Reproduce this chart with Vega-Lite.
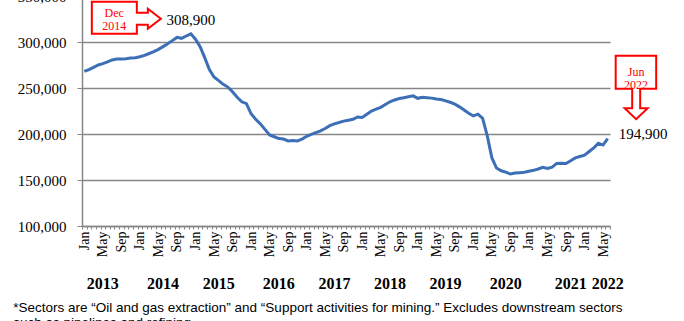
{
  "$schema": "https://vega.github.io/schema/vega-lite/v6.json",
  "width": 528,
  "height": 230,
  "autosize": "none",
  "padding": {"left": 82, "top": -4, "right": 74, "bottom": 95},
  "background": "white",
  "config": {
    "view": {"stroke": null},
    "axis": {"labelFont": "Liberation Serif", "labelColor": "black"},
    "title": {"font": "Liberation Sans", "fontWeight": "normal", "color": "black"}
  },
  "title": {
    "text": ["*Sectors are “Oil and gas extraction” and “Support activities for mining.” Excludes downstream sectors", "such as pipelines and refining."],
    "orient": "bottom",
    "anchor": "start",
    "frame": "bounds",
    "fontSize": 13.5,
    "lineHeight": 15,
    "offset": 10,
    "dx": -4
  },
  "resolve": {"axis": {"x": "independent"}},
  "encoding": {
    "y": {
      "field": "value", "type": "quantitative", "title": null,
      "scale": {"domain": [100000, 350000], "nice": false, "zero": false},
      "axis": {
        "values": [100000, 150000, 200000, 250000, 300000, 350000], "format": ",d",
        "grid": true, "gridColor": "#868686", "gridWidth": 1.5,
        "domainColor": "#868686", "domainWidth": 1.5, "tickColor": "#868686", "tickSize": 5,
        "labelFont": "Liberation Serif", "labelFontSize": 15, "labelPadding": 11, "labelColor": "black"
      }
    }
  },
  "layer": [
    {
      "data": {"values": [
        {"date": "2013-01-01", "value": 268000}, {"date": "2013-02-01", "value": 270000}, {"date": "2013-03-01", "value": 272500}, {"date": "2013-04-01", "value": 275000},
        {"date": "2013-05-01", "value": 276500}, {"date": "2013-06-01", "value": 278500}, {"date": "2013-07-01", "value": 280500}, {"date": "2013-08-01", "value": 281500},
        {"date": "2013-09-01", "value": 281500}, {"date": "2013-10-01", "value": 281800}, {"date": "2013-11-01", "value": 282500}, {"date": "2013-12-01", "value": 283000},
        {"date": "2014-01-01", "value": 284000}, {"date": "2014-02-01", "value": 285500}, {"date": "2014-03-01", "value": 287500}, {"date": "2014-04-01", "value": 289500},
        {"date": "2014-05-01", "value": 292000}, {"date": "2014-06-01", "value": 295000}, {"date": "2014-07-01", "value": 298000}, {"date": "2014-08-01", "value": 301500},
        {"date": "2014-09-01", "value": 305000}, {"date": "2014-10-01", "value": 304000}, {"date": "2014-11-01", "value": 306500}, {"date": "2014-12-01", "value": 308900},
        {"date": "2015-01-01", "value": 303000}, {"date": "2015-02-01", "value": 295000}, {"date": "2015-03-01", "value": 283000}, {"date": "2015-04-01", "value": 270000},
        {"date": "2015-05-01", "value": 262000}, {"date": "2015-06-01", "value": 258000}, {"date": "2015-07-01", "value": 254000}, {"date": "2015-08-01", "value": 251000},
        {"date": "2015-09-01", "value": 246000}, {"date": "2015-10-01", "value": 240000}, {"date": "2015-11-01", "value": 235000}, {"date": "2015-12-01", "value": 233000},
        {"date": "2016-01-01", "value": 222000}, {"date": "2016-02-01", "value": 216000}, {"date": "2016-03-01", "value": 211000}, {"date": "2016-04-01", "value": 205000},
        {"date": "2016-05-01", "value": 199000}, {"date": "2016-06-01", "value": 197000}, {"date": "2016-07-01", "value": 195000}, {"date": "2016-08-01", "value": 194500},
        {"date": "2016-09-01", "value": 192500}, {"date": "2016-10-01", "value": 193000}, {"date": "2016-11-01", "value": 192500}, {"date": "2016-12-01", "value": 194500},
        {"date": "2017-01-01", "value": 197500}, {"date": "2017-02-01", "value": 199500}, {"date": "2017-03-01", "value": 201500}, {"date": "2017-04-01", "value": 203500},
        {"date": "2017-05-01", "value": 206000}, {"date": "2017-06-01", "value": 209000}, {"date": "2017-07-01", "value": 211000}, {"date": "2017-08-01", "value": 212500},
        {"date": "2017-09-01", "value": 214000}, {"date": "2017-10-01", "value": 215000}, {"date": "2017-11-01", "value": 216000}, {"date": "2017-12-01", "value": 218500},
        {"date": "2018-01-01", "value": 218000}, {"date": "2018-02-01", "value": 221500}, {"date": "2018-03-01", "value": 225000}, {"date": "2018-04-01", "value": 227000},
        {"date": "2018-05-01", "value": 229000}, {"date": "2018-06-01", "value": 232000}, {"date": "2018-07-01", "value": 235000}, {"date": "2018-08-01", "value": 237000},
        {"date": "2018-09-01", "value": 238500}, {"date": "2018-10-01", "value": 239500}, {"date": "2018-11-01", "value": 240500}, {"date": "2018-12-01", "value": 241500},
        {"date": "2019-01-01", "value": 238800}, {"date": "2019-02-01", "value": 240000}, {"date": "2019-03-01", "value": 239500}, {"date": "2019-04-01", "value": 239000},
        {"date": "2019-05-01", "value": 238000}, {"date": "2019-06-01", "value": 237500}, {"date": "2019-07-01", "value": 236000}, {"date": "2019-08-01", "value": 234500},
        {"date": "2019-09-01", "value": 232500}, {"date": "2019-10-01", "value": 229500}, {"date": "2019-11-01", "value": 226000}, {"date": "2019-12-01", "value": 222500},
        {"date": "2020-01-01", "value": 219600}, {"date": "2020-02-01", "value": 221500}, {"date": "2020-03-01", "value": 217000}, {"date": "2020-04-01", "value": 198000},
        {"date": "2020-05-01", "value": 174000}, {"date": "2020-06-01", "value": 163000}, {"date": "2020-07-01", "value": 160000}, {"date": "2020-08-01", "value": 158500},
        {"date": "2020-09-01", "value": 156500}, {"date": "2020-10-01", "value": 157500}, {"date": "2020-11-01", "value": 158000}, {"date": "2020-12-01", "value": 158500},
        {"date": "2021-01-01", "value": 159500}, {"date": "2021-02-01", "value": 160500}, {"date": "2021-03-01", "value": 162000}, {"date": "2021-04-01", "value": 163800},
        {"date": "2021-05-01", "value": 162500}, {"date": "2021-06-01", "value": 164000}, {"date": "2021-07-01", "value": 168000}, {"date": "2021-08-01", "value": 168200},
        {"date": "2021-09-01", "value": 168000}, {"date": "2021-10-01", "value": 171000}, {"date": "2021-11-01", "value": 174000}, {"date": "2021-12-01", "value": 175500},
        {"date": "2022-01-01", "value": 177000}, {"date": "2022-02-01", "value": 181000}, {"date": "2022-03-01", "value": 185000}, {"date": "2022-04-01", "value": 189900},
        {"date": "2022-05-01", "value": 188000}, {"date": "2022-06-01", "value": 194900}
      ]},
      "mark": {"type": "line", "color": "#3C6FB6", "strokeWidth": 3},
      "encoding": {
        "x": {
          "field": "date", "timeUnit": "utcyearmonth", "type": "ordinal", "bandPosition": 0.5, "title": null,
          "scale": {"type": "band", "paddingInner": 0, "paddingOuter": 0},
          "axis": {
            "orient": "bottom", "tickBand": "extent", "grid": false,
            "domainColor": "#868686", "domainWidth": 1.5, "tickColor": "#868686", "tickSize": 3,
            "labelFont": "Liberation Serif", "labelAngle": 270, "labelFontSize": 14, "labelPadding": 2, "labelOverlap": false,
            "labelExpr": "indexof([0,4,8], utcmonth(datum.value)) >= 0 ? utcFormat(datum.value, '%b') : ''"
          }
        }
      }
    },
    {
      "data": {"values": [{"date": "2014-12-01", "value": 308900}]},
      "mark": {"type": "point", "shape": "M-99,-32L-54,-32L-54,-21L-43,-21L-43,-25L-30,-15L-43,-5L-43,-9L-54,-9L-54,0L-99,0Z", "size": 4, "filled": true, "fill": "white", "stroke": "#FF0000", "strokeWidth": 2, "opacity": 1},
      "encoding": {
        "x": {"field": "date", "timeUnit": "utcyearmonth", "type": "ordinal", "bandPosition": 0.5, "axis": null}
      }
    },
    {
      "data": {"values": [{"date": "2014-12-01", "value": 308900, "label": "Dec|2014"}]},
      "mark": {"type": "text", "font": "Liberation Serif", "fontSize": 12, "color": "#FF0000", "lineBreak": "|", "lineHeight": 13, "align": "center", "baseline": "middle", "dx": -76.6, "dy": -20.5},
      "encoding": {
        "x": {"field": "date", "timeUnit": "utcyearmonth", "type": "ordinal", "bandPosition": 0.5, "axis": null},
        "text": {"field": "label"}
      }
    },
    {
      "data": {"values": [{"date": "2014-12-01", "value": 308900, "label": "308,900"}]},
      "mark": {"type": "text", "font": "Liberation Serif", "fontSize": 15, "color": "black", "align": "center", "baseline": "alphabetic", "dy": -9},
      "encoding": {
        "x": {
          "field": "date", "timeUnit": "utcyearmonth", "type": "ordinal", "bandPosition": 0.5, "title": null,
          "axis": {
            "orient": "bottom", "ticks": false, "tickSize": 0, "domain": false, "grid": false,
            "labelFont": "Liberation Serif", "labelAngle": 0, "labelFontSize": 16, "labelFontWeight": "bold", "labelPadding": 57,
            "labelBaseline": "middle", "labelAlign": "center", "labelOverlap": false,
            "labelExpr": "indexof(['2013-05','2014-06','2015-06','2016-07','2017-07','2018-07','2019-07','2020-08','2021-10','2022-06'], utcFormat(datum.value, '%Y-%m')) >= 0 ? utcFormat(datum.value, '%Y') : ''"
          }
        },
        "text": {"field": "label"}
      }
    },
    {
      "data": {"values": [{"date": "2022-06-01", "value": 194900}]},
      "mark": {"type": "point", "shape": "M8,-83L48.5,-83L48.5,-50L32.5,-50L32.5,-30.5L40,-30.5L28.5,-19.5L17,-30.5L24.5,-30.5L24.5,-50L8,-50Z", "size": 4, "filled": true, "fill": "white", "stroke": "#FF0000", "strokeWidth": 2, "opacity": 1},
      "encoding": {
        "x": {"field": "date", "timeUnit": "utcyearmonth", "type": "ordinal", "bandPosition": 0.5, "axis": null}
      }
    },
    {
      "data": {"values": [{"date": "2022-06-01", "value": 194900, "label": "Jun|2022"}]},
      "mark": {"type": "text", "font": "Liberation Serif", "fontSize": 12, "color": "#FF0000", "lineBreak": "|", "lineHeight": 13, "align": "center", "baseline": "middle", "dx": 28.4, "dy": -66.7},
      "encoding": {
        "x": {"field": "date", "timeUnit": "utcyearmonth", "type": "ordinal", "bandPosition": 0.5, "axis": null},
        "text": {"field": "label"}
      }
    },
    {
      "data": {"values": [{"date": "2022-06-01", "value": 194900, "label": "194,900"}]},
      "mark": {"type": "text", "font": "Liberation Serif", "fontSize": 15, "color": "black", "align": "left", "baseline": "alphabetic", "dx": 11, "dy": 0},
      "encoding": {
        "x": {"field": "date", "timeUnit": "utcyearmonth", "type": "ordinal", "bandPosition": 0.5, "axis": null},
        "text": {"field": "label"}
      }
    }
  ]
}
